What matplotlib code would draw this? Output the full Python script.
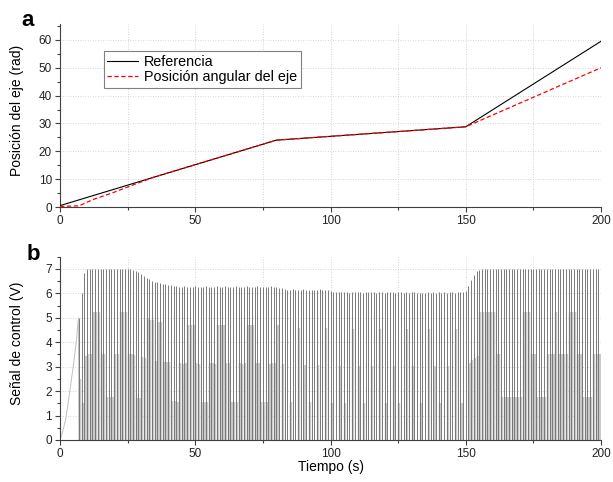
import matplotlib
matplotlib.use("Agg")
import matplotlib.pyplot as plt
import numpy as np
from matplotlib.ticker import MultipleLocator

plt.rcParams['font.family'] = ['Liberation Sans', 'DejaVu Sans']

# ---------------- panel a: shaft position ----------------
ref_t = [0, 80, 150, 200]
ref_pos = [0.5, 24.0, 28.8, 59.5]

shaft_t = [0, 3, 7, 12, 20, 28, 35, 80, 150, 200]
shaft_pos = [0.2, 0.3, 0.4, 2.6, 5.3, 8.3, 10.8, 24.0, 28.8, 50.0]

# ---------------- panel b: control signal ----------------
# start-up ramp before the pulse train
ramp_t = [0, 1, 2, 3, 4, 5, 6, 6.8, 7.0]
ramp_v = [0.0, 0.35, 0.8, 1.5, 2.3, 3.1, 4.0, 5.0, 0.0]

# one pulse per second, from t = 7 s to t = 199 s
pulse_t = np.arange(7, 200, 1.0)
pulse_peak = (
    [5.0, 6.0, 6.85]
    + [7.0] * 17
    + [6.97, 6.93, 6.86, 6.78, 6.70, 6.63, 6.57, 6.52, 6.48, 6.45,
       6.42, 6.40, 6.37, 6.35, 6.33, 6.31, 6.30]
    + [6.28, 6.26, 6.29, 6.25, 6.28, 6.27, 6.30, 6.26, 6.28, 6.25,
       6.29, 6.27, 6.28, 6.26, 6.29, 6.28, 6.25, 6.30, 6.27, 6.28,
       6.26, 6.29, 6.27, 6.25, 6.28, 6.30, 6.26, 6.28, 6.27, 6.29,
       6.25, 6.28, 6.27, 6.26, 6.29, 6.28, 6.27]
    + [6.22, 6.20, 6.18,
       6.15, 6.14, 6.16, 6.15, 6.13, 6.15, 6.16, 6.14, 6.15, 6.13,
       6.15, 6.14, 6.16, 6.15, 6.12, 6.14]
    + [6.08, 6.06, 6.05, 6.07, 6.04, 6.05, 6.06, 6.03, 6.05, 6.04,
       6.06, 6.05, 6.03, 6.05, 6.04, 6.06, 6.05, 6.02, 6.04, 6.05,
       6.03, 6.05, 6.04, 6.06, 6.03, 6.04, 6.05, 6.02, 6.04, 6.03,
       6.05, 6.04, 6.02, 6.03, 6.00, 6.02, 6.04, 6.03, 6.05, 6.03,
       6.04, 6.02, 6.05, 6.03, 6.04, 6.05, 6.03, 6.05, 6.06, 6.05]
    + [6.08, 6.30, 6.55, 6.75, 6.90, 6.97]
    + [7.0] * 44
)

# quarter-step level reached on each pulse edge (0..3)
edge_step = (
    "212"
    "22333221112233322211223332"
    "332221112223332211122233322111222333221112223"
    "0200100302010020030100201003020100200301002010030200100302010020030100"
    "2222" "333333" "22" "11111111" "333" "22" "1111" "222" "3" "2222" "333" "22" "1111" "222"
)

DARK = '#000000'
AXC = '#404040'
GRID = '#c8c8c8'


def style_axis(ax, ymax, ymajor, yminor):
    ax.set_xlim(0, 200)
    ax.set_ylim(0, ymax)
    ax.xaxis.set_major_locator(MultipleLocator(50))
    ax.xaxis.set_minor_locator(MultipleLocator(25))
    ax.yaxis.set_major_locator(MultipleLocator(ymajor))
    ax.yaxis.set_minor_locator(MultipleLocator(yminor))
    for s in ('top', 'right'):
        ax.spines[s].set_visible(False)
    for s in ('left', 'bottom'):
        ax.spines[s].set_color(AXC)
        ax.spines[s].set_linewidth(0.8)
    ax.tick_params(which='major', direction='out', length=3.8, width=0.8,
                   color=AXC, labelsize=8.5, labelcolor='#222222', pad=2)
    ax.tick_params(which='minor', direction='out', length=2.2, width=0.8,
                   color=AXC)
    ax.set_axisbelow(True)
    ax.xaxis.grid(True, which='both', linestyle=(0, (1, 2)), color=GRID, lw=0.6)
    ax.yaxis.grid(True, which='major', linestyle=(0, (1, 2)), color=GRID, lw=0.6)


fig = plt.figure(figsize=(6.13, 4.82), dpi=100)
ax1 = fig.add_axes([60 / 613, 1 - 207 / 482, 541 / 613, 183 / 482])
ax2 = fig.add_axes([60 / 613, 1 - 440 / 482, 541 / 613, 183.3 / 482])

# panel a
style_axis(ax1, 65.7, 10, 5)
ax1.plot(ref_t, ref_pos, color=DARK, lw=0.8, label='Referencia', zorder=3)
ax1.plot(shaft_t, shaft_pos, color='#ff0000', lw=0.9, linestyle=(0, (3.5, 2)),
         label='Posición angular del eje', zorder=4)
ax1.set_ylabel('Posición del eje (rad)', fontsize=10)
ax1.yaxis.set_label_coords(-0.066, 0.53)
leg = ax1.legend(loc='upper left', bbox_to_anchor=(0.081, 0.852), borderaxespad=0,
                 frameon=True, fancybox=False, edgecolor='#808080', framealpha=1,
                 fontsize=10.4, handlelength=2.1, handletextpad=0.45,
                 borderpad=0.25, labelspacing=0.12)
leg.get_frame().set_linewidth(0.8)

# panel b
style_axis(ax2, 7.5, 1, 0.5)
peaks = np.array(pulse_peak)
steps = np.array([int(c) for c in edge_step])
edge_h = peaks * steps / 4.0
ax2.plot(ramp_t, ramp_v, color='#c0c0c0', lw=0.7, zorder=2)
ax2.vlines(pulse_t + 0.45, 0, edge_h, color='#cacaca', lw=1.75, zorder=2)
ax2.vlines(pulse_t, 0, peaks, color='#707070', lw=0.65, zorder=3)
ax2.set_ylabel('Señal de control (V)', fontsize=10)
ax2.yaxis.set_label_coords(-0.066, 0.53)
ax2.set_xlabel('Tiempo (s)', fontsize=10)
ax2.xaxis.set_label_coords(0.5, -0.11)

fig.text(21 / 613, 1 - 21 / 482, 'a', fontsize=16, fontweight='bold', va='center', ha='left')
fig.text(27 / 613, 1 - 254 / 482, 'b', fontsize=16, fontweight='bold', va='center', ha='left')

fig.savefig('out.png', dpi=100)
